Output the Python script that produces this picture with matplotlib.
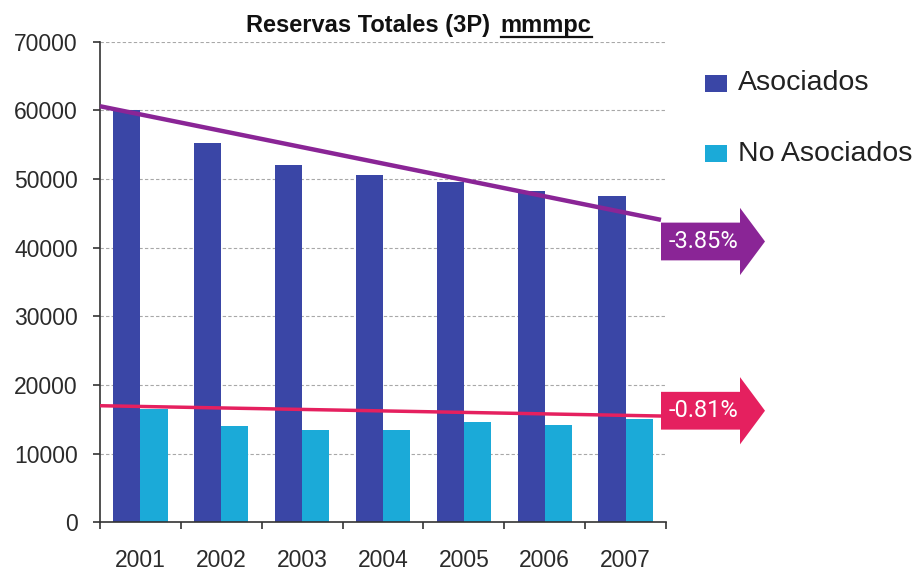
import matplotlib
matplotlib.use("Agg")
import matplotlib.pyplot as plt
from matplotlib.patches import Polygon, Rectangle
from matplotlib.lines import Line2D
import numpy as np

# ---- data -------------------------------------------------------------
years = ["2001", "2002", "2003", "2004", "2005", "2006", "2007"]
asociados = [60000, 55200, 52100, 50650, 49550, 48300, 47550]
no_asociados = [16500, 14050, 13400, 13400, 14600, 14100, 15100]

# trend lines: value at the left edge and where they meet the arrow
trend_asoc = [60600, 44050]
trend_noasoc = [16980, 15480]
trend_labels = ["-3.85%", "-0.81%"]
# vertical centre of each arrow (data units)
arrow_centres = [40900, 16250]

yticks = [0, 10000, 20000, 30000, 40000, 50000, 60000, 70000]

# ---- style ------------------------------------------------------------
C_ASOC = "#3A46A6"
C_NOASOC = "#1BAAD8"
C_PURPLE = "#8A2596"
C_PINK = "#E5205F"
TXT = "#2b2b2b"

plt.rcParams["font.family"] = ["Liberation Sans", "DejaVu Sans"]

W, H = 921, 571
fig = plt.figure(figsize=(W / 100, H / 100), dpi=100)
fig.patch.set_facecolor("white")

ax_l, ax_r, ax_t, ax_b = 100, 666, 41.7, 522.3
ax = fig.add_axes([ax_l / W, 1 - ax_b / H, (ax_r - ax_l) / W, (ax_b - ax_t) / H])

x = np.arange(len(years))
bw = 0.335
ax.bar(x - bw / 2, asociados, width=bw, color=C_ASOC, zorder=2)
ax.bar(x + bw / 2, no_asociados, width=bw, color=C_NOASOC, zorder=2)

ax.set_xlim(-0.5, len(years) - 0.5)
ax.set_ylim(0, 70000)

# gridlines
ax.set_yticks(yticks)
ax.set_yticklabels([str(v) for v in yticks])
for v in yticks[1:]:
    ax.axhline(v, color="#a8a8a8", lw=0.8, ls=(0, (3, 2)), zorder=1)

# axes styling
for s in ("top", "right"):
    ax.spines[s].set_visible(False)
for s in ("left", "bottom"):
    ax.spines[s].set_color("#333333")
    ax.spines[s].set_linewidth(1.2)
    ax.spines[s].set_zorder(3)

ax.tick_params(axis="y", direction="out", length=5, width=1.2, color="#333333",
               labelsize=16.5, labelcolor=TXT, pad=11)
ax.set_xticks(x)
ax.set_xticklabels(years)
ax.set_xticks(np.arange(-0.5, len(years)), minor=True)
ax.tick_params(axis="x", which="major", length=0, labelsize=16.5, labelcolor=TXT, pad=19)
ax.tick_params(axis="x", which="minor", direction="out", length=5, width=1.2, color="#333333")

# trend lines
x_end = -0.5 + len(years) * (661 - ax_l) / (ax_r - ax_l)
ax.plot([-0.5, x_end], trend_asoc, color=C_PURPLE, lw=3.2, solid_capstyle="butt",
        zorder=4, clip_on=False)
ax.plot([-0.5, x_end], trend_noasoc, color=C_PINK, lw=2.5, solid_capstyle="butt",
        zorder=4, clip_on=False)

# arrows with the rate of change (x in axes fraction, y in data units)
tr = ax.get_yaxis_transform()
x0 = (661 - ax_l) / (ax_r - ax_l)
x1 = (740 - ax_l) / (ax_r - ax_l)
x2 = (765 - ax_l) / (ax_r - ax_l)
rect_h, head_h = 2750, 4900
for yc, col, lab in zip(arrow_centres, [C_PURPLE, C_PINK], trend_labels):
    pts = [(x0, yc - rect_h), (x1, yc - rect_h), (x1, yc - head_h), (x2, yc),
           (x1, yc + head_h), (x1, yc + rect_h), (x0, yc + rect_h)]
    ax.add_patch(Polygon(pts, closed=True, transform=tr, facecolor=col,
                         edgecolor="none", clip_on=False, zorder=5))
    ax.text((x0 + x1) / 2 + 0.006, yc, lab, transform=tr, ha="center", va="center",
            color="white", fontsize=17, family=["Roboto", "DejaVu Sans"], zorder=6)

# legend
legend_items = [("Asociados", C_ASOC, 83.5), ("No Asociados", C_NOASOC, 153.5)]
for lab, col, yc in legend_items:
    fig.patches.append(Rectangle((705 / W, 1 - (yc + 8.5) / H), 22 / W, 17 / H,
                                 transform=fig.transFigure, facecolor=col,
                                 edgecolor="none"))
    fig.text(738 / W, 1 - yc / H, lab, ha="left", va="center", fontsize=20.5,
             color="#222222")

# title with underlined unit
ty = 1 - 31.7 / H
fig.text(246 / W, ty, "Reservas Totales (3P)", ha="left", va="baseline",
         fontsize=17, fontweight="bold", color="#111111")
unit = fig.text(591.7 / W, ty, "mmmpc", ha="left", va="baseline",
                fontsize=17, fontweight="bold", color="#111111")
fig.canvas.draw()
bb = unit.get_window_extent()
unit.set_position(((591.7 - bb.width) / W, ty))
fig.lines.append(Line2D([(591.7 - bb.width) / W, 591.7 / W],
                        [1 - 36.8 / H, 1 - 36.8 / H], transform=fig.transFigure,
                        color="#111111", lw=1.6))

fig.savefig("out.png", dpi=100, facecolor="white")
